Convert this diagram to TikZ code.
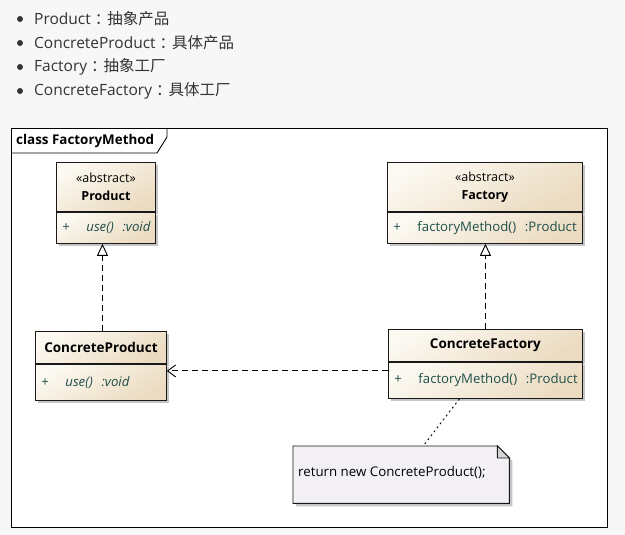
\documentclass[tikz,border=0pt]{standalone}
\usepackage{fontspec}
\setmainfont{Open Sans}
\newfontfamily\cjk{Noto Sans CJK SC}
\usetikzlibrary{arrows.meta}
\usetikzlibrary{positioning}
\usetikzlibrary{shadows}
\usetikzlibrary{calc}

\definecolor{pagebg}{HTML}{F7F7F7}
\definecolor{listtext}{HTML}{333333}
\definecolor{boxtop}{HTML}{FCF9F2}
\definecolor{boxbottom}{HTML}{EBDBC0}
\definecolor{membertext}{HTML}{1F4F4A}
\definecolor{notefill}{HTML}{F4F1F6}
\definecolor{foldfill}{HTML}{D6D6D6}

\tikzset{
    umlshadow/.style = {drop shadow={shadow xshift=3pt, shadow yshift=-3pt, fill=black!45, opacity=0.5}},
    classbox/.style = {draw=black!90, line width=0.9pt, inner sep=0pt,
                       top color=boxtop, bottom color=boxbottom, shading angle=30, umlshadow},
    classhead/.style = {classbox, align=center, font=\fontsize{13.5}{18}\selectfont},
    classops/.style = {classbox, align=left, text=membertext, font=\fontsize{13.2}{15}\selectfont},
    listitem/.style = {anchor=west, text=listtext, font=\fontsize{15.5}{17}\selectfont, inner sep=0pt}
}

\begin{document}
\begin{tikzpicture}[x=1pt, y=-1pt, node distance=0pt]
    \useasboundingbox[fill=pagebg] (0,0) rectangle (625,535);

    % list above the diagram
    \foreach \y in {19,43,67,91} \fill[listtext] (20,\y) circle (3);
    \node[listitem] (l_product)  at (34,19) {Product\kern4pt{\cjk：\kern-3pt 抽象产品}};
    \node[listitem] (l_cproduct) at (34,43) {ConcreteProduct\kern4pt{\cjk：\kern-3pt 具体产品}};
    \node[listitem] (l_factory)  at (34,67) {Factory\kern4pt{\cjk：\kern-3pt 抽象工厂}};
    \node[listitem] (l_cfactory) at (34,91) {ConcreteFactory\kern4pt{\cjk：\kern-3pt 具体工厂}};

    % frame
    \draw[fill=white, line width=0.9pt] (11,128) rectangle (607,527);
    \draw[line width=0.9pt] (11,153) -- (157,153) -- (167,137) -- (167,128);
    \node[anchor=west, inner sep=0pt, font=\fontsize{13.4}{15}\selectfont\bfseries] (c_frame) at (16,141) {class FactoryMethod};

    % classes
    \node[classhead, anchor=north west, text width=99pt, minimum height=49pt] (c_product) at (56,162)
        {\fontsize{12.5}{18}\selectfont«abstract»\\\textbf{Product}};
    \node[classops, text width=99pt, minimum height=31pt, below = of c_product] (c_productops)
        {\hspace*{6pt}\makebox[24pt][l]{+}\textit{use()\ \ :void}};

    \node[classhead, anchor=north west, text width=195pt, minimum height=49pt] (c_factory) at (387,162)
        {\fontsize{12.5}{18}\selectfont«abstract»\\\textbf{Factory}};
    \node[classops, text width=195pt, minimum height=31pt, below = of c_factory] (c_factoryops)
        {\hspace*{6pt}\makebox[24pt][l]{+}factoryMethod()\ \ :Product};

    \node[classhead, anchor=north west, text width=131pt, minimum height=32pt] (c_cproduct) at (35,331)
        {\textbf{ConcreteProduct}};
    \node[classops, text width=131pt, minimum height=36pt, below = of c_cproduct] (c_cproductops)
        {\hspace*{6pt}\makebox[24pt][l]{+}\textit{use()\ \ :void}};

    \node[classhead, anchor=north west, text width=194pt, minimum height=32pt] (c_cfactory) at (388,329)
        {\textbf{ConcreteFactory}};
    \node[classops, text width=194pt, minimum height=36pt, below = of c_cfactory] (c_cfactoryops)
        {\hspace*{6pt}\makebox[24pt][l]{+}factoryMethod()\ \ :Product};

    % note
    \node[anchor=north west, inner sep=0pt, minimum width=216pt, minimum height=57pt] (c_note) at (293,446) {};
    \filldraw[fill=notefill, draw=black!90, line width=0.9pt, umlshadow]
        (c_note.north west) -- ([xshift=-12pt]c_note.north east) -- ([yshift=-12pt]c_note.north east)
        -- (c_note.south east) -- (c_note.south west) -- cycle;
    \filldraw[fill=foldfill, draw=black!90, line width=0.9pt]
        ([xshift=-12pt]c_note.north east) -- ([xshift=-12pt, yshift=-12pt]c_note.north east)
        -- ([yshift=-12pt]c_note.north east) -- cycle;
    \node[anchor=west, inner sep=0pt, font=\fontsize{13.3}{15}\selectfont] (c_notetext) at ([xshift=5pt, yshift=2pt]c_note.west)
        {return new ConcreteProduct();};

    % connectors
    \draw[dash pattern=on 6pt off 4pt, line width=0.9pt, -{Triangle[open, length=12pt, width=11pt, line width=0.9pt]}]
        ([xshift=1.5pt]c_cproduct.north) -- ([xshift=1.5pt]c_cproduct.north |- c_productops.south);
    \draw[dash pattern=on 6pt off 4pt, line width=0.9pt, -{Triangle[open, length=12pt, width=11pt, line width=0.9pt]}]
        (c_cfactory.north) -- (c_cfactory.north |- c_factoryops.south);
    \draw[dash pattern=on 6pt off 4pt, line width=0.9pt, -{Straight Barb[length=8pt, width=12pt, line width=0.9pt]}]
        ([yshift=-9pt]c_cfactoryops.north west) -- ([yshift=-9pt]c_cfactoryops.north west -| c_cproductops.east);
    \draw[line width=0.9pt, dash pattern=on 2pt off 3pt]
        ([xshift=-26pt]c_cfactoryops.south) -- ([xshift=22pt]c_note.north);
\end{tikzpicture}
\end{document}
